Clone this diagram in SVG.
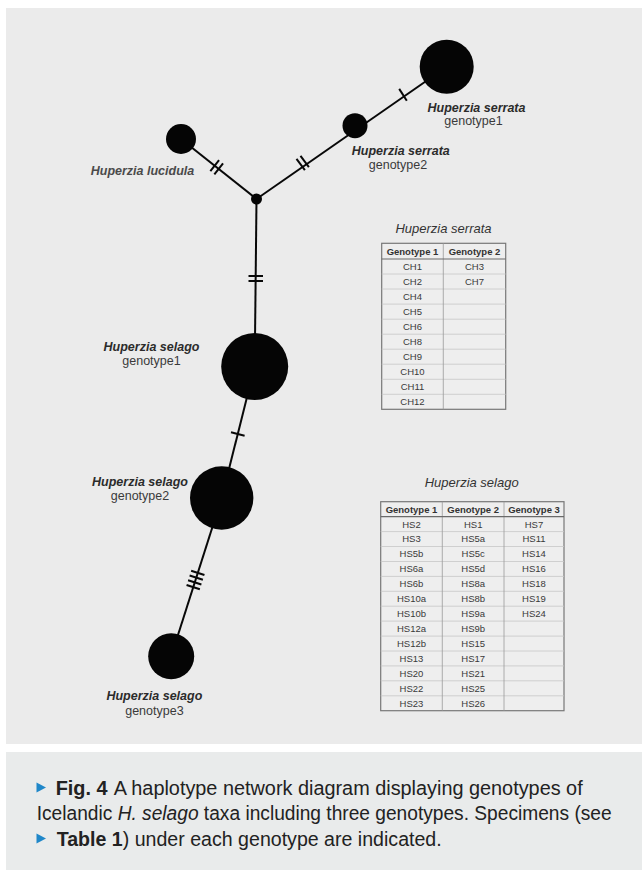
<svg xmlns="http://www.w3.org/2000/svg" width="642" height="871" viewBox="0 0 642 871">
<style>
.lbl{font-family:"Liberation Sans",Arial,sans-serif;font-size:12.5px;font-weight:bold;font-style:italic;fill:#2b2b2b;text-anchor:middle}
.sub{font-family:"Liberation Sans",Arial,sans-serif;font-size:12.5px;fill:#3a3a3a;text-anchor:middle}
.node{fill:#050505}
.edge{stroke:#080808;stroke-width:2;fill:none}
.tick{stroke:#080808;stroke-width:2;fill:none}
.ttl{font-family:"Liberation Sans",Arial,sans-serif;font-size:13px;font-style:italic;fill:#333;text-anchor:middle}
.th{font-family:"Liberation Sans",Arial,sans-serif;font-size:9.5px;font-weight:bold;fill:#333;text-anchor:middle}
.td{font-family:"Liberation Sans",Arial,sans-serif;font-size:9.5px;fill:#3a3a3a;text-anchor:middle}
.cell{fill:#eeeeee;stroke:#777;stroke-width:1.2}
.hl{stroke:#c6c6c6;stroke-width:0.8}
.vl{stroke:#9a9a9a;stroke-width:0.8}
.hb{stroke:#6a6a6a;stroke-width:1.2}
.cap{font-family:"Liberation Sans",Arial,sans-serif;font-size:19.5px;fill:#222}
.tri{fill:#1f87c9}
</style>
<rect x="0" y="0" width="642" height="871" fill="#ffffff"/>
<rect x="6" y="8" width="636" height="736" fill="#ebebeb"/>
<rect x="6" y="752" width="636" height="118" fill="#e9ebeb"/>

<g id="connectors">
<line class="edge" x1="256.5" y1="199" x2="446.7" y2="66.7"/>
<line class="edge" x1="256.5" y1="199" x2="181" y2="139"/>
<line class="edge" x1="256.5" y1="199" x2="255" y2="340"/>
<line class="edge" x1="254.7" y1="366.5" x2="221.7" y2="498"/>
<line class="edge" x1="221.7" y1="498" x2="171.2" y2="656.3"/>
<line class="tick" x1="399.2" y1="88.9" x2="406.8" y2="100.7"/>
<line class="tick" x1="296.5" y1="158.9" x2="304.9" y2="170.1"/>
<line class="tick" x1="300.5" y1="155.9" x2="308.9" y2="167.1"/>
<line class="tick" x1="214.35" y1="174.4" x2="223.05" y2="163.4"/>
<line class="tick" x1="210.35" y1="171.2" x2="219.05" y2="160.2"/>
<line class="tick" x1="248.5" y1="276" x2="263" y2="276"/>
<line class="tick" x1="248.5" y1="281" x2="263" y2="281"/>
<line class="tick" x1="231" y1="432.3" x2="244.6" y2="435.7"/>
<line class="tick" x1="191.12" y1="570.73" x2="204.44" y2="574.99"/>
<line class="tick" x1="189.6" y1="575.49" x2="202.92" y2="579.75"/>
<line class="tick" x1="188.08" y1="580.25" x2="201.4" y2="584.51"/>
<line class="tick" x1="186.56" y1="585.01" x2="199.88" y2="589.27"/>
</g>

<g id="node-junction"><circle class="node" cx="256.5" cy="199" r="5.5"/></g>

<g id="node-serrata-g1">
<circle class="node" cx="446.7" cy="66.7" r="27"/>
<text class="lbl" x="476.5" y="111.5">Huperzia serrata</text>
<text class="sub" x="473.5" y="125">genotype1</text>
</g>

<g id="node-serrata-g2">
<circle class="node" cx="355" cy="125.7" r="12.5"/>
<text class="lbl" x="400.8" y="155">Huperzia serrata</text>
<text class="sub" x="398" y="168.5">genotype2</text>
</g>

<g id="node-lucidula">
<circle class="node" cx="181" cy="139" r="15"/>
<text class="lbl" x="142.5" y="174.5" style="fill:#4a4a4a">Huperzia lucidula</text>
</g>

<g id="node-selago-g1">
<circle class="node" cx="254.7" cy="366.5" r="33.5"/>
<text class="lbl" x="151.5" y="350.5">Huperzia selago</text>
<text class="sub" x="151.5" y="365">genotype1</text>
</g>

<g id="node-selago-g2">
<circle class="node" cx="221.7" cy="498" r="31.7"/>
<text class="lbl" x="140" y="485.5">Huperzia selago</text>
<text class="sub" x="140" y="500">genotype2</text>
</g>

<g id="node-selago-g3">
<circle class="node" cx="171.2" cy="656.3" r="23"/>
<text class="lbl" x="154.4" y="700">Huperzia selago</text>
<text class="sub" x="154.4" y="714.5">genotype3</text>
</g>

<g id="table-serrata">
<text class="ttl" x="443.5" y="233">Huperzia serrata</text>
<rect class="cell" x="381.7" y="243.3" width="124" height="166"/>
<line class="hl" x1="381.7" y1="274" x2="505.7" y2="274"/>
<line class="hl" x1="381.7" y1="289" x2="505.7" y2="289"/>
<line class="hl" x1="381.7" y1="304.1" x2="505.7" y2="304.1"/>
<line class="hl" x1="381.7" y1="319.2" x2="505.7" y2="319.2"/>
<line class="hl" x1="381.7" y1="334.2" x2="505.7" y2="334.2"/>
<line class="hl" x1="381.7" y1="349.2" x2="505.7" y2="349.2"/>
<line class="hl" x1="381.7" y1="364.2" x2="505.7" y2="364.2"/>
<line class="hl" x1="381.7" y1="379.3" x2="505.7" y2="379.3"/>
<line class="hl" x1="381.7" y1="394.3" x2="505.7" y2="394.3"/>
<line class="vl" x1="443.3" y1="243.3" x2="443.3" y2="409.3"/>
<line class="hb" x1="381.7" y1="259" x2="505.7" y2="259"/>
<text class="th" x="412.5" y="254.5">Genotype 1</text>
<text class="th" x="474.5" y="254.5">Genotype 2</text>
<text class="td" x="412.5" y="269.8">CH1</text>
<text class="td" x="412.5" y="284.8">CH2</text>
<text class="td" x="412.5" y="299.9">CH4</text>
<text class="td" x="412.5" y="314.9">CH5</text>
<text class="td" x="412.5" y="329.9">CH6</text>
<text class="td" x="412.5" y="345">CH8</text>
<text class="td" x="412.5" y="360">CH9</text>
<text class="td" x="412.5" y="375">CH10</text>
<text class="td" x="412.5" y="390.1">CH11</text>
<text class="td" x="412.5" y="405.1">CH12</text>
<text class="td" x="474.5" y="269.8">CH3</text>
<text class="td" x="474.5" y="284.8">CH7</text>
</g>

<g id="table-selago">
<text class="ttl" x="471.7" y="486.7">Huperzia selago</text>
<rect class="cell" x="380.7" y="501.7" width="183.3" height="209"/>
<line class="hl" x1="380.7" y1="531.6" x2="564" y2="531.6"/>
<line class="hl" x1="380.7" y1="546.5" x2="564" y2="546.5"/>
<line class="hl" x1="380.7" y1="561.5" x2="564" y2="561.5"/>
<line class="hl" x1="380.7" y1="576.4" x2="564" y2="576.4"/>
<line class="hl" x1="380.7" y1="591.3" x2="564" y2="591.3"/>
<line class="hl" x1="380.7" y1="606.2" x2="564" y2="606.2"/>
<line class="hl" x1="380.7" y1="621.1" x2="564" y2="621.1"/>
<line class="hl" x1="380.7" y1="636.1" x2="564" y2="636.1"/>
<line class="hl" x1="380.7" y1="651" x2="564" y2="651"/>
<line class="hl" x1="380.7" y1="665.9" x2="564" y2="665.9"/>
<line class="hl" x1="380.7" y1="680.8" x2="564" y2="680.8"/>
<line class="hl" x1="380.7" y1="695.8" x2="564" y2="695.8"/>
<line class="vl" x1="442.3" y1="501.7" x2="442.3" y2="710.7"/>
<line class="vl" x1="504" y1="501.7" x2="504" y2="710.7"/>
<line class="hb" x1="380.7" y1="516.7" x2="564" y2="516.7"/>
<text class="th" x="411.5" y="512.5">Genotype 1</text>
<text class="th" x="473.2" y="512.5">Genotype 2</text>
<text class="th" x="534" y="512.5">Genotype 3</text>
<text class="td" x="411.5" y="527.5">HS2</text>
<text class="td" x="411.5" y="542.4">HS3</text>
<text class="td" x="411.5" y="557.3">HS5b</text>
<text class="td" x="411.5" y="572.2">HS6a</text>
<text class="td" x="411.5" y="587.2">HS6b</text>
<text class="td" x="411.5" y="602.1">HS10a</text>
<text class="td" x="411.5" y="617">HS10b</text>
<text class="td" x="411.5" y="631.9">HS12a</text>
<text class="td" x="411.5" y="646.9">HS12b</text>
<text class="td" x="411.5" y="661.8">HS13</text>
<text class="td" x="411.5" y="676.7">HS20</text>
<text class="td" x="411.5" y="691.6">HS22</text>
<text class="td" x="411.5" y="706.5">HS23</text>
<text class="td" x="473.2" y="527.5">HS1</text>
<text class="td" x="473.2" y="542.4">HS5a</text>
<text class="td" x="473.2" y="557.3">HS5c</text>
<text class="td" x="473.2" y="572.2">HS5d</text>
<text class="td" x="473.2" y="587.2">HS8a</text>
<text class="td" x="473.2" y="602.1">HS8b</text>
<text class="td" x="473.2" y="617">HS9a</text>
<text class="td" x="473.2" y="631.9">HS9b</text>
<text class="td" x="473.2" y="646.9">HS15</text>
<text class="td" x="473.2" y="661.8">HS17</text>
<text class="td" x="473.2" y="676.7">HS21</text>
<text class="td" x="473.2" y="691.6">HS25</text>
<text class="td" x="473.2" y="706.5">HS26</text>
<text class="td" x="534" y="527.5">HS7</text>
<text class="td" x="534" y="542.4">HS11</text>
<text class="td" x="534" y="557.3">HS14</text>
<text class="td" x="534" y="572.2">HS16</text>
<text class="td" x="534" y="587.2">HS18</text>
<text class="td" x="534" y="602.1">HS19</text>
<text class="td" x="534" y="617">HS24</text>
</g>

<g id="caption">
<polygon class="tri" points="36.5,782.5 46,787.5 36.5,792.5"/>
<text class="cap" x="55.7" y="794.5" textLength="527" lengthAdjust="spacingAndGlyphs"><tspan font-weight="bold">Fig. 4</tspan><tspan dx="6">A haplotype network diagram displaying genotypes of</tspan></text>
<text class="cap" x="36.7" y="820" textLength="575" lengthAdjust="spacingAndGlyphs">Icelandic <tspan font-style="italic">H. selago</tspan> taxa including three genotypes. Specimens (see</text>
<polygon class="tri" points="36.5,833.5 46,838.5 36.5,843.5"/>
<text class="cap" x="56.7" y="845.5" textLength="385" lengthAdjust="spacingAndGlyphs"><tspan font-weight="bold">Table 1</tspan>) under each genotype are indicated.</text>
</g>
</svg>
